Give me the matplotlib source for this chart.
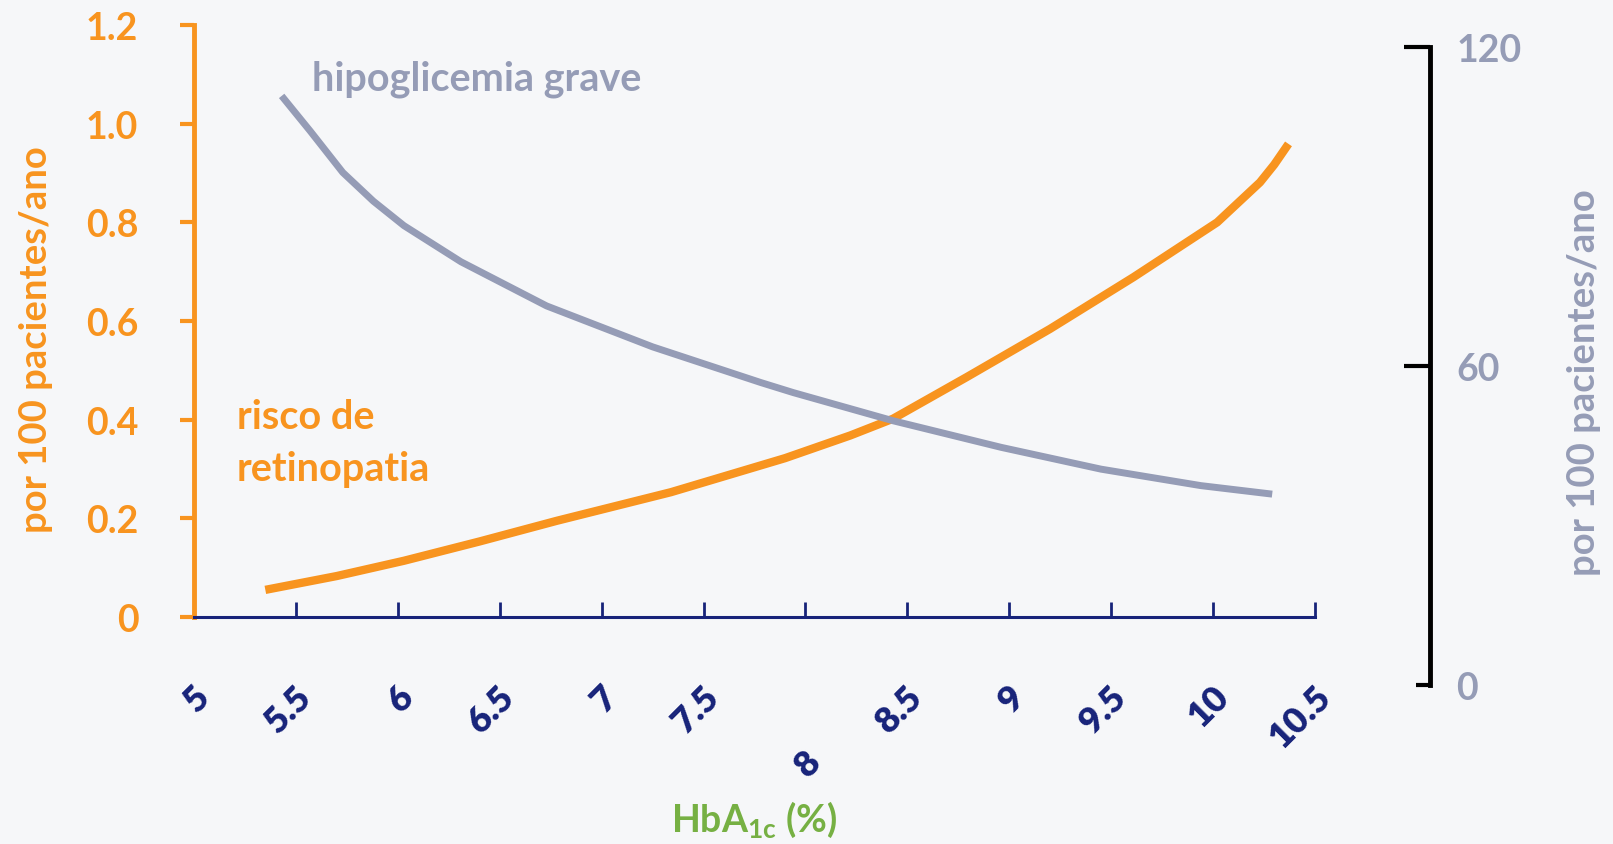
import matplotlib.pyplot as plt
import matplotlib.transforms as mtransforms

# HbA1c values (x)
hba1c_ret = [5.35, 5.7, 6.03, 6.4, 6.78, 7.34, 7.90, 8.22, 8.43, 8.79, 9.20, 9.61, 10.02, 10.23, 10.3, 10.37]
retinopatia = [0.055, 0.083, 0.114, 0.153, 0.195, 0.253, 0.322, 0.368, 0.402, 0.486, 0.584, 0.689, 0.80, 0.881, 0.917, 0.959]

hba1c_hipo = [5.43, 5.57, 5.73, 5.88, 6.03, 6.31, 6.73, 7.25, 7.78, 7.94, 8.43, 8.96, 9.45, 9.94, 10.29]
hipoglicemia = [110.8, 104.2, 96.4, 91.0, 86.4, 79.6, 71.3, 63.6, 56.9, 55.0, 49.7, 44.7, 40.6, 37.5, 35.9]

x_ticks = [5, 5.5, 6, 6.5, 7, 7.5, 8, 8.5, 9, 9.5, 10, 10.5]
x_labels = ['5', '5.5', '6', '6.5', '7', '7.5', '8', '8.5', '9', '9.5', '10', '10.5']
left_ticks = [0, 0.2, 0.4, 0.6, 0.8, 1.0, 1.2]
left_labels = ['0', '0.2', '0.4', '0.6', '0.8', '1.0', '1.2']
right_ticks = [60, 120]

orange = '#f8941f'
grey = '#959cb6'
navy = '#17237a'
green = '#76b043'
bg = '#f6f7f9'

plt.rcParams['font.family'] = ['Lato', 'DejaVu Sans']
plt.rcParams['font.weight'] = 'bold'
plt.rcParams['axes.labelweight'] = 'bold'
plt.rcParams['mathtext.fontset'] = 'custom'
plt.rcParams['mathtext.rm'] = 'Lato:bold'
plt.rcParams['mathtext.bf'] = 'Lato:bold'

W, H = 1613, 845
fig = plt.figure(figsize=(W / 100, H / 100), dpi=100, facecolor=bg)

# axes rectangles in pixels
x0, x1 = 194, 1315
ax = fig.add_axes([x0 / W, (H - 618) / H, (x1 - x0) / W, (618 - 26) / H])
ax2 = fig.add_axes([x0 / W, (H - 686) / H, (x1 - x0) / W, (686 - 48) / H])
ax.set_facecolor(bg)
ax2.patch.set_visible(False)

# retinopathy curve (left axis)
ax.plot(hba1c_ret, retinopatia, color=orange, lw=6, solid_capstyle='butt',
        solid_joinstyle='round')
ax.set_xlim(5, 10.5)
ax.set_ylim(0, 1.2)
ax.set_yticks(left_ticks)
ax.set_yticklabels(left_labels)
ax.tick_params(axis='y', direction='out', length=10, width=3, color=orange,
               labelcolor=orange, labelsize=27, pad=30)
ax.set_xticks(x_ticks)
ax.set_xticklabels(x_labels, rotation=45, rotation_mode='anchor',
                   ha='right', va='center', fontweight='heavy')
ax.tick_params(axis='x', direction='in', length=11, width=2, color=navy,
               labelcolor=navy, labelsize=26, pad=53)
for sp in ['top', 'right']:
    ax.spines[sp].set_visible(False)
ax.spines['left'].set_color(orange)
ax.spines['left'].set_linewidth(3.5)
ax.spines['bottom'].set_color(navy)
ax.spines['bottom'].set_linewidth(2.2)

# x labels sit a little right of their ticks, and the "8" much lower
for lbl in ax.get_xticklabels():
    dy = -0.65 if lbl.get_text() == '8' else 0
    lbl.set_transform(lbl.get_transform() +
                      mtransforms.ScaledTranslation(0.1, dy, fig.dpi_scale_trans))

ax.set_xlabel(r'HbA$_{\mathrm{1c}}$ (%)', color=green, fontsize=27)
ax.xaxis.set_label_coords(0.5, -0.341)
ax.xaxis.label.set_va('center')
ax.set_ylabel('por 100 pacientes/ano', color=orange, fontsize=27.5)
ax.yaxis.set_label_coords(-0.141, 0.47)
ax.yaxis.label.set_va('center')

# hypoglycaemia curve (right axis)
ax2.plot(hba1c_hipo, hipoglicemia, color=grey, lw=5, solid_capstyle='butt',
         solid_joinstyle='round')
ax2.set_xlim(5, 10.5)
ax2.set_ylim(0, 120)
ax2.set_xticks([])
for sp in ['top', 'left', 'bottom']:
    ax2.spines[sp].set_visible(False)
ax2.spines['right'].set_position(('axes', (1430 - x0) / (x1 - x0)))
ax2.spines['right'].set_color('black')
ax2.spines['right'].set_linewidth(3.5)
ax2.yaxis.set_ticks_position('right')
ax2.yaxis.set_label_position('right')
ax2.set_yticks(right_ticks)
ax2.set_yticks([0], minor=True)
ax2.set_yticklabels(['60', '120'])
ax2.set_yticklabels(['0'], minor=True)
ax2.tick_params(axis='y', which='major', direction='in', length=19, width=3,
                color='black', labelcolor=grey, labelsize=27, pad=19)
ax2.tick_params(axis='y', which='minor', direction='in', length=10, width=3,
                color='black', labelcolor=grey, labelsize=27, pad=19)
ax2.set_ylabel('por 100 pacientes/ano', color=grey, fontsize=27.5, rotation=90)
ax2.yaxis.set_label_coords(1.240, 0.475)
ax2.yaxis.label.set_va('center')

# curve labels
ax.text(5.58, 1.093, 'hipoglicemia grave', color=grey, fontsize=28.5, va='center')
ax.text(5.21, 0.353, 'risco de\nretinopatia', color=orange, fontsize=28.5,
        va='center', linespacing=1.5)

fig.savefig('out.png', dpi=100, facecolor=bg)
